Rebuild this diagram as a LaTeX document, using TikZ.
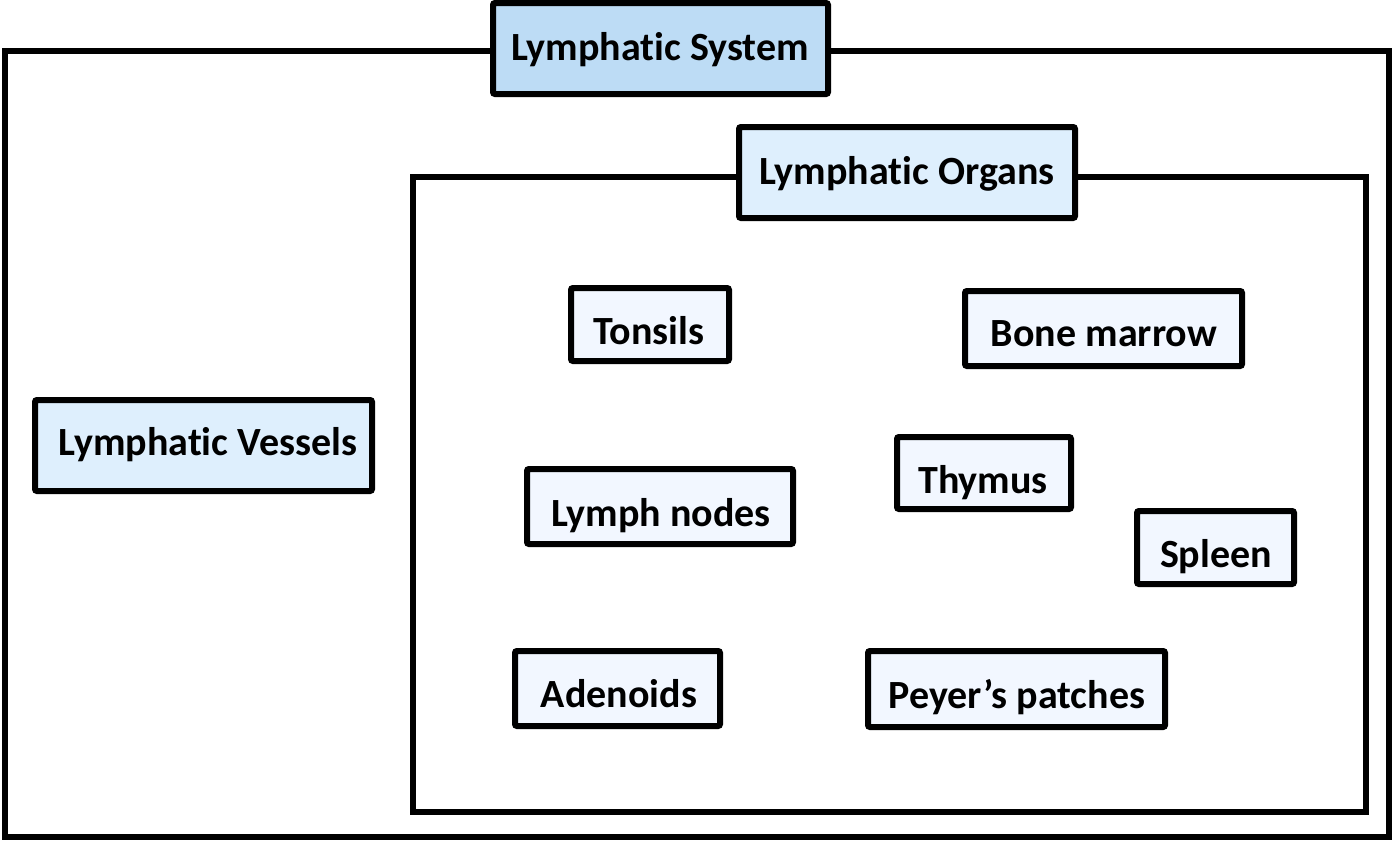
\documentclass[tikz,border=0pt]{standalone}
\usepackage{fontspec}
\setmainfont{Carlito}[Ligatures=CommonOff]
\definecolor{sysfill}{HTML}{BDDCF5}
\definecolor{grpfill}{HTML}{DEEFFD}
\definecolor{itemfill}{HTML}{F2F7FF}
\begin{document}
\begin{tikzpicture}[x=0.5pt,y=-0.5pt,
  frame/.style={draw=black,line width=3pt},
  box/.style={draw=black,line width=3pt,rounded corners=1pt,inner sep=0pt},
  sysbox/.style={box,fill=sysfill},
  grpbox/.style={box,fill=grpfill},
  itembox/.style={box,fill=itemfill},
  lbl/.style={font=\fontsize{20}{24}\selectfont\bfseries,inner sep=0pt,anchor=base}]
\useasboundingbox (0,0) rectangle (1392,842);
\fill[white] (0,0) rectangle (1392,842);
% frames
\coordinate (o1) at (4.5,51);
\coordinate (o2) at (1389,837);
\coordinate (i1) at (413,177);
\coordinate (i2) at (1366,812);
\draw[frame] (o1) rectangle (o2);
\draw[frame] (i1) rectangle (i2);
% boxes
\node[sysbox, minimum width=167.5pt, minimum height=45.5pt] (sys) at (660.5,48.5) {};
\node[grpbox, minimum width=168pt, minimum height=45.5pt] (organs) at (907,172.5) {};
\node[grpbox, minimum width=168.5pt, minimum height=45.5pt] (vessels) at (203.5,445.5) {};
\node[itembox, minimum width=79pt, minimum height=36.5pt] (tonsils) at (650,324.5) {};
\node[itembox, minimum width=138.5pt, minimum height=37.5pt] (bone) at (1103.5,328.5) {};
\node[itembox, minimum width=87pt, minimum height=36pt] (thymus) at (984,473) {};
\node[itembox, minimum width=133pt, minimum height=37.5pt] (lnodes) at (660,506.5) {};
\node[itembox, minimum width=78.5pt, minimum height=36.5pt] (spleen) at (1215.5,547.5) {};
\node[itembox, minimum width=102.5pt, minimum height=37.5pt] (adenoids) at (617.5,688.5) {};
\node[itembox, minimum width=148.5pt, minimum height=38pt] (peyer) at (1016.5,689) {};
% labels
\node[lbl] (tsys) at (660,60) {Lymphatic System};
\node[lbl] (torgans) at (907,184) {Lymphatic Organs};
\node[lbl] (tvessels) at (208,455) {Lymphatic Vessels};
\node[lbl] (ttonsils) at (649,344) {Tonsils};
\node[lbl] (tbone) at (1104,346) {Bone marrow};
\node[lbl] (tthymus) at (983,493) {Thymus};
\node[lbl] (tlnodes) at (661,526) {Lymph nodes};
\node[lbl] (tspleen) at (1216,567) {Spleen};
\node[lbl] (tadenoids) at (619,707) {Adenoids};
\node[lbl] (tpeyer) at (1017,708) {Peyer’s patches};
\end{tikzpicture}
\end{document}
